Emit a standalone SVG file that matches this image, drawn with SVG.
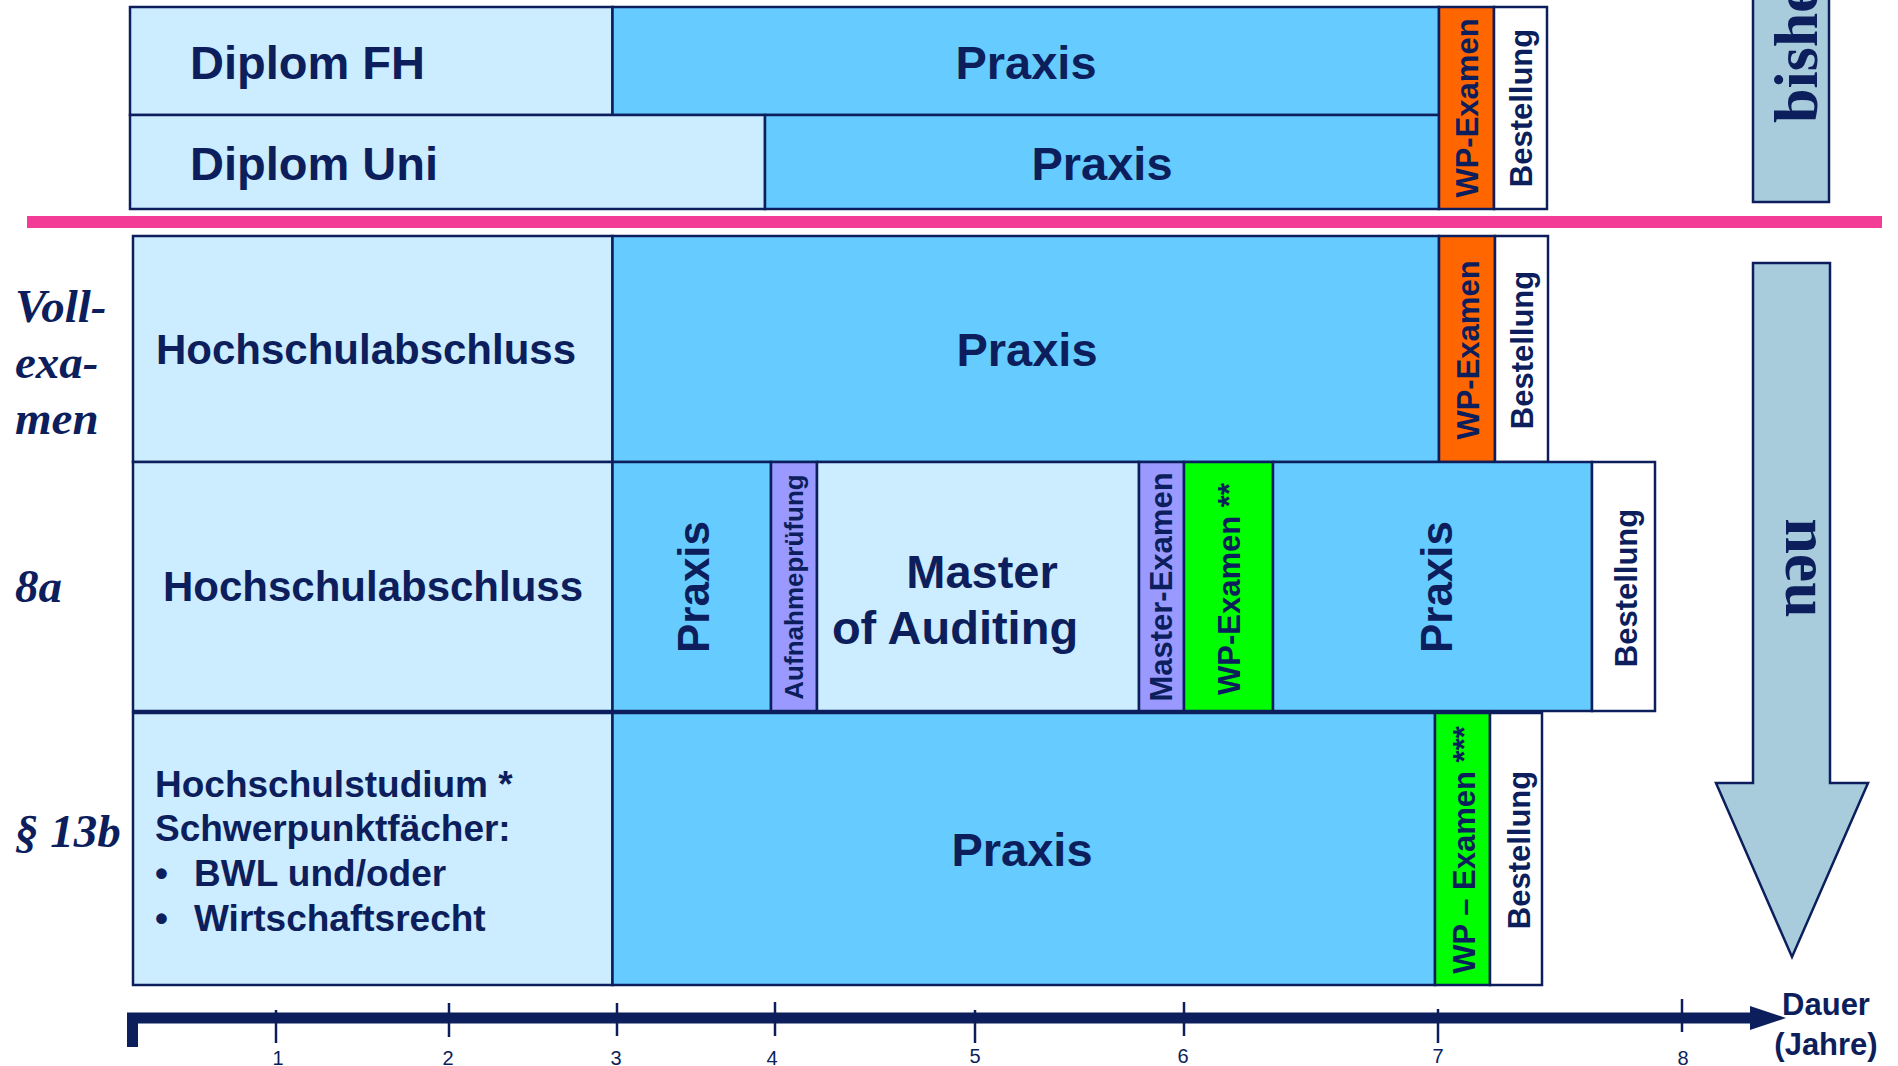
<svg xmlns="http://www.w3.org/2000/svg" width="1898" height="1066" viewBox="0 0 1898 1066">
<defs>
<style>
.bx{stroke:#0C1E5B;stroke-width:2.5}
.lb{fill:#CCECFF}.pb{fill:#66CCFF}.or{fill:#FF6600}.gr{fill:#00FF00}.lv{fill:#9999FF}.wh{fill:#FFFFFF}
.t{font-family:"Liberation Sans",Arial,sans-serif;font-weight:bold;fill:#0C1E5B}
.m{text-anchor:middle}
.s{font-family:"Liberation Serif","Times New Roman",serif;font-weight:bold;fill:#0C1E5B}
.i{font-style:italic;font-size:47px}
.n{font-family:"Liberation Sans",Arial,sans-serif;font-size:20px;fill:#0C1E5B;text-anchor:middle}
.tk{stroke:#0C1E5B;stroke-width:2.5}
</style>
<marker id="ah" markerUnits="userSpaceOnUse" markerWidth="36" markerHeight="24" refX="0" refY="12" orient="auto">
<path d="M0,0 L36,12 L0,24 z" fill="#0C1E5B"/>
</marker>
</defs>
<rect width="1898" height="1066" fill="#FFFFFF"/>

<!-- old scheme -->
<g id="diplom-fh"><rect class="bx lb" x="130" y="7" width="482.5" height="108"/><text class="t" x="190" y="79" font-size="47">Diplom FH</text></g>
<g id="praxis-fh"><rect class="bx pb" x="612.5" y="7" width="826.5" height="108"/><text class="t m" x="1026" y="79" font-size="47">Praxis</text></g>
<g id="diplom-uni"><rect class="bx lb" x="130" y="115" width="635" height="94"/><text class="t" x="190" y="180" font-size="47">Diplom Uni</text></g>
<g id="praxis-uni"><rect class="bx pb" x="765" y="115" width="674" height="94"/><text class="t m" x="1102" y="180" font-size="47">Praxis</text></g>
<g id="wp-old"><rect class="bx or" x="1439" y="7" width="55" height="202"/><text class="t m" transform="translate(1478,108) rotate(-90)" font-size="31">WP-Examen</text></g>
<g id="best-old"><rect class="bx wh" x="1494" y="7" width="53" height="202"/><text class="t m" transform="translate(1532,108) rotate(-90)" font-size="31">Bestellung</text></g>
<g id="bisher"><rect class="bx" fill="#A9CCDC" x="1753" y="-5" width="76" height="207"/><text class="s" transform="translate(1817,123) rotate(-90)" font-size="62">bisher</text></g>

<g id="separator"><rect x="27" y="216" width="1855" height="12" fill="#F33C96"/></g>

<!-- row labels -->
<g id="label-voll"><text class="s i" x="15" y="322">Voll-</text><text class="s i" x="15" y="378">exa-</text><text class="s i" x="15" y="434">men</text></g>
<g id="label-8a"><text class="s i" x="15" y="602">8a</text></g>
<g id="label-13b"><text class="s i" x="15" y="847">§ 13b</text></g>

<!-- row 1 -->
<g id="r1-hs"><rect class="bx lb" x="133" y="236" width="479.5" height="226"/><text class="t m" x="366" y="364" font-size="42">Hochschulabschluss</text></g>
<g id="r1-praxis"><rect class="bx pb" x="612.5" y="236" width="826.5" height="226"/><text class="t m" x="1027" y="366" font-size="47">Praxis</text></g>
<g id="r1-wp"><rect class="bx or" x="1439" y="236" width="56" height="226"/><text class="t m" transform="translate(1479,350) rotate(-90)" font-size="31">WP-Examen</text></g>
<g id="r1-best"><rect class="bx wh" x="1495" y="236" width="53" height="226"/><text class="t m" transform="translate(1533,350) rotate(-90)" font-size="31">Bestellung</text></g>

<!-- row 2 -->
<g id="r2-hs"><rect class="bx lb" x="133" y="462" width="479.5" height="249"/><text class="t m" x="373" y="601" font-size="42">Hochschulabschluss</text></g>
<g id="r2-praxis1"><rect class="bx pb" x="612.5" y="462" width="158.5" height="249"/><text class="t m" transform="translate(709,587) rotate(-90)" font-size="44">Praxis</text></g>
<g id="r2-aufnahme"><rect class="bx lv" x="771" y="462" width="46" height="249"/><text class="t m" transform="translate(803,587) rotate(-90)" font-size="26">Aufnahmeprüfung</text></g>
<g id="r2-master"><rect class="bx lb" x="817" y="462" width="322" height="249"/><text class="t m" x="982" y="588" font-size="47">Master</text><text class="t m" x="955" y="644" font-size="47">of Auditing</text></g>
<g id="r2-masterexamen"><rect class="bx lv" x="1139" y="462" width="45" height="249"/><text class="t m" transform="translate(1172,587) rotate(-90)" font-size="31">Master-Examen</text></g>
<g id="r2-wp"><rect class="bx gr" x="1184" y="462" width="89" height="249"/><text class="t m" transform="translate(1240,589) rotate(-90)" font-size="31">WP-Examen **</text></g>
<g id="r2-praxis2"><rect class="bx pb" x="1273" y="462" width="319" height="249"/><text class="t m" transform="translate(1452,587) rotate(-90)" font-size="44">Praxis</text></g>
<g id="r2-best"><rect class="bx wh" x="1592" y="462" width="63" height="249"/><text class="t m" transform="translate(1637,588) rotate(-90)" font-size="31">Bestellung</text></g>

<!-- row 3 -->
<g id="r3-hs"><rect class="bx lb" x="133" y="713" width="479.5" height="272"/>
<text class="t" x="155" y="797" font-size="37">Hochschulstudium *</text>
<text class="t" x="155" y="841" font-size="37">Schwerpunktfächer:</text>
<text class="t" x="155" y="886" font-size="37">•</text><text class="t" x="194" y="886" font-size="37">BWL und/oder</text>
<text class="t" x="155" y="931" font-size="37">•</text><text class="t" x="194" y="931" font-size="37">Wirtschaftsrecht</text></g>
<g id="r3-praxis"><rect class="bx pb" x="612.5" y="713" width="822.5" height="272"/><text class="t m" x="1022" y="866" font-size="47">Praxis</text></g>
<g id="r3-wp"><rect class="bx gr" x="1435" y="713" width="55" height="272"/><text class="t m" transform="translate(1475,850) rotate(-90)" font-size="31">WP – Examen ***</text></g>
<g id="r3-best"><rect class="bx wh" x="1490" y="713" width="52" height="272"/><text class="t m" transform="translate(1530,850) rotate(-90)" font-size="31">Bestellung</text></g>

<!-- neu arrow -->
<g id="neu"><polygon class="bx" fill="#A9CCDC" points="1753,263 1830,263 1830,783 1868,783 1792,957 1716,783 1753,783"/><text class="s m" transform="translate(1786,568) rotate(90)" font-size="64">neu</text></g>

<!-- axis -->
<g id="connectors">
<path d="M132.5,1047 L132.5,1018 L1750,1018" fill="none" stroke="#0C1E5B" stroke-width="11" stroke-linejoin="miter" marker-end="url(#ah)"/>
<line class="tk" x1="276" y1="1010" x2="276" y2="1043"/>
<line class="tk" x1="449" y1="1003" x2="449" y2="1037"/>
<line class="tk" x1="617" y1="1003" x2="617" y2="1036"/>
<line class="tk" x1="775" y1="1002" x2="775" y2="1036"/>
<line class="tk" x1="975" y1="1010" x2="975" y2="1043"/>
<line class="tk" x1="1184" y1="1002" x2="1184" y2="1036"/>
<line class="tk" x1="1438" y1="1009" x2="1438" y2="1043"/>
<line class="tk" x1="1682" y1="999" x2="1682" y2="1032"/>
</g>
<g id="axis-labels">
<text class="n" x="278" y="1065">1</text>
<text class="n" x="448" y="1065">2</text>
<text class="n" x="616" y="1065">3</text>
<text class="n" x="772" y="1065">4</text>
<text class="n" x="975" y="1063">5</text>
<text class="n" x="1183" y="1063">6</text>
<text class="n" x="1438" y="1063">7</text>
<text class="n" x="1683" y="1065">8</text>
<text class="t m" x="1826" y="1015" font-size="31">Dauer</text>
<text class="t m" x="1826" y="1055" font-size="31">(Jahre)</text>
</g>
</svg>
